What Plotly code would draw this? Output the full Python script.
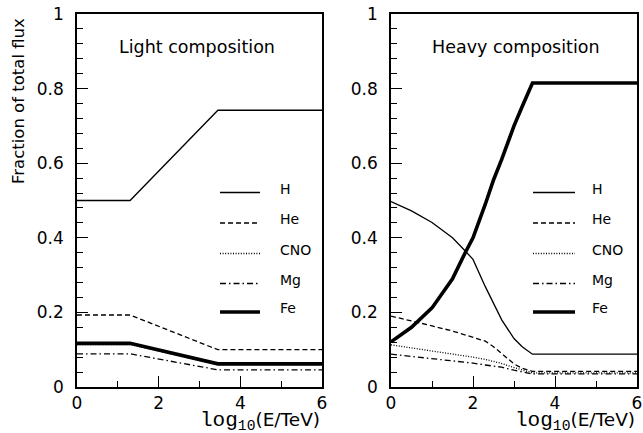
import plotly.graph_objects as go

# ---------------- data ----------------
species = ["H", "He", "CNO", "Mg", "Fe"]

x_light = [0.0, 1.3, 3.45, 6.0]
light_H = [0.500, 0.500, 0.742, 0.742]
light_He = [0.193, 0.193, 0.100, 0.100]
light_CNO = [0.114, 0.114, 0.060, 0.060]
light_Mg = [0.089, 0.089, 0.046, 0.046]
light_Fe = [0.117, 0.117, 0.062, 0.062]

x_heavy = [0.0, 0.5, 1.0, 1.5, 1.8, 2.0, 2.3, 2.5, 2.7, 3.0, 3.2, 3.45, 6.0]
heavy_H = [0.497, 0.472, 0.441, 0.400, 0.366, 0.342, 0.269, 0.225, 0.180, 0.130, 0.108, 0.088, 0.088]
heavy_He = [0.190, 0.178, 0.164, 0.150, 0.140, 0.134, 0.123, 0.108, 0.090, 0.062, 0.050, 0.042, 0.042]
heavy_CNO = [0.113, 0.105, 0.097, 0.089, 0.083, 0.080, 0.074, 0.069, 0.063, 0.052, 0.045, 0.038, 0.038]
heavy_Mg = [0.088, 0.082, 0.077, 0.071, 0.067, 0.064, 0.059, 0.056, 0.053, 0.045, 0.040, 0.035, 0.035]
heavy_Fe = [0.121, 0.160, 0.212, 0.290, 0.358, 0.400, 0.490, 0.555, 0.610, 0.700, 0.752, 0.815, 0.815]

y_ticks = [0, 0.2, 0.4, 0.6, 0.8, 1]
y_tick_labels = ["0", "0.2", "0.4", "0.6", "0.8", "1"]
x_ticks = [0, 2, 4, 6]
x_tick_labels = ["0", "2", "4", "6"]

# ---------------- styles ----------------
W, H = 643, 433
styles = {
    "H": dict(width=1.3, dash="solid"),
    "He": dict(width=1.3, dash="5px,3px"),
    "CNO": dict(width=1.3, dash="1px,1.6px"),
    "Mg": dict(width=1.3, dash="6px,3px,1.5px,3px"),
    "Fe": dict(width=3.6, dash="solid"),
}

def px(x):
    return x / W

def py(y):
    return 1 - y / H

fig = go.Figure()

light = dict(zip(species, [light_H, light_He, light_CNO, light_Mg, light_Fe]))
heavy = dict(zip(species, [heavy_H, heavy_He, heavy_CNO, heavy_Mg, heavy_Fe]))

for s in ["CNO", "Mg", "He", "H", "Fe"]:
    fig.add_trace(go.Scatter(x=x_light, y=light[s], mode="lines", name=s,
                             line=dict(color="black", **styles[s]),
                             showlegend=False, xaxis="x", yaxis="y"))
for s in ["CNO", "Mg", "He", "H", "Fe"]:
    fig.add_trace(go.Scatter(x=x_heavy, y=heavy[s], mode="lines", name=s,
                             line=dict(color="black", **styles[s]),
                             showlegend=False, xaxis="x2", yaxis="y2"))

tickfont = dict(family="DejaVu Sans", size=17, color="black")

axis_common = dict(showline=True, linecolor="black", linewidth=1.5, mirror=True,
                   showgrid=False, zeroline=False, ticks="inside", automargin=False,
                   tickcolor="black", tickwidth=1.2, tickfont=tickfont)
minor_x = dict(dtick=1, ticks="inside", ticklen=6, tickcolor="black", tickwidth=1.2)
minor_y = dict(dtick=0.04, ticks="inside", ticklen=6, tickcolor="black", tickwidth=1.2)

ydom = [py(387), py(14)]
fig.update_layout(
    width=W, height=H, autosize=False,
    margin=dict(l=0, r=0, t=0, b=0, pad=0),
    paper_bgcolor="white", plot_bgcolor="white",
    xaxis=dict(domain=[px(77), px(322)], range=[0, 6], tickvals=x_ticks,
               ticktext=x_tick_labels, ticklen=11, minor=minor_x,
               anchor="y", **axis_common),
    yaxis=dict(domain=ydom, range=[0, 1], tickvals=y_ticks, ticktext=y_tick_labels,
               ticklen=11, ticklabelstandoff=8, minor=minor_y,
               anchor="x", **axis_common),
    xaxis2=dict(domain=[px(391), px(637)], range=[0, 6], tickvals=x_ticks,
                ticktext=x_tick_labels, ticklen=11, minor=minor_x,
                anchor="y2", **axis_common),
    yaxis2=dict(domain=ydom, range=[0, 1], tickvals=y_ticks, ticktext=y_tick_labels,
                ticklen=11, ticklabelstandoff=8, minor=minor_y,
                anchor="x2", **axis_common),
)

ann = []
shapes = []
common_ann = dict(xref="paper", yref="paper", showarrow=False)
# panel titles
ann.append(dict(text="Light composition", x=px(197), y=py(47), xanchor="center", yanchor="middle",
                font=dict(family="DejaVu Sans", size=17.5, color="black"), **common_ann))
ann.append(dict(text="Heavy composition", x=px(516), y=py(47), xanchor="center", yanchor="middle",
                font=dict(family="DejaVu Sans", size=17.5, color="black"), **common_ann))
# y title
ann.append(dict(text="Fraction of total flux", x=px(19), y=py(101), xanchor="center", yanchor="middle",
                textangle=-90, font=dict(family="DejaVu Sans", size=16.5, color="black"),
                **common_ann))
# x titles
xtitle = ('<span style="font-family:Liberation Mono;font-size:21px">log<sub>10</sub></span>(E/TeV)')
for xr in (322, 637):
    ann.append(dict(text=xtitle, x=px(xr), y=py(421), xanchor="right", yanchor="middle",
                    font=dict(family="DejaVu Sans", size=18.5, color="black"), **common_ann))

# legends
leg_y = [192.5, 223, 253.5, 283.5, 312]
for (x0, x1, xt) in [(220, 260, 278), (533, 575, 590)]:
    for s, yy in zip(species, leg_y):
        st = styles[s]
        shapes.append(dict(type="line", xref="paper", yref="paper",
                           x0=px(x0), x1=px(x1), y0=py(yy), y1=py(yy),
                           line=dict(color="black", width=st["width"], dash=st["dash"])))
        ann.append(dict(text=s, x=px(xt), y=py(yy - 4), xanchor="left", yanchor="middle",
                        font=dict(family="DejaVu Sans", size=14, color="black"), **common_ann))

fig.update_layout(annotations=ann, shapes=shapes)
fig.write_html("out.html", config={"displayModeBar": False},
               post_script="document.body.style.margin='0';")
